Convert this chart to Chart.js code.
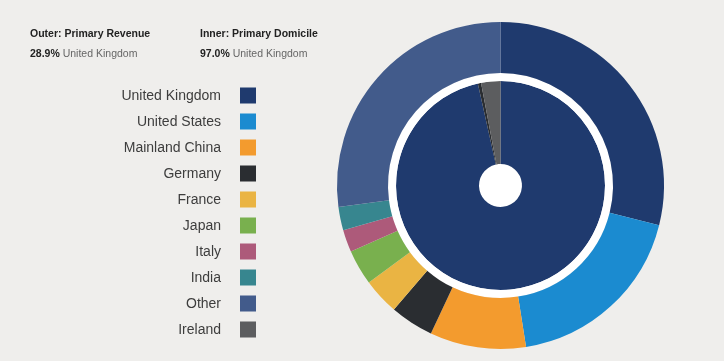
<!DOCTYPE html>
<html><head><meta charset="utf-8">
<script src="https://cdn.jsdelivr.net/npm/chart.js@4.4.0/dist/chart.umd.min.js"></script>
<style>
html,body{margin:0;padding:0;background:#efeeec;}
#wrap{position:relative;width:724px;height:361px;overflow:hidden;}
canvas{position:absolute;left:0;top:0;}
.hdr{position:absolute;font-family:"Liberation Sans",Arial,Helvetica,sans-serif;font-size:10.5px;color:#222;line-height:13px;white-space:nowrap;}
.hdr .t{font-weight:bold;}
.hdr .s{color:#666;margin-top:7px;}
.hdr .s b{color:#222;}
</style></head><body>
<div id="wrap"><canvas id="c" width="724" height="361"></canvas></div>
<script>
const categories = ["United Kingdom","United States","Mainland China","Germany","France","Japan","Italy","India","Other","Ireland"];
const outerValues = [28.9, 18.6, 9.5, 4.3, 3.6, 3.5, 2.2, 2.3, 27.1, 0];
const innerValues = [97.0, 0, 0, 0.5, 0, 0, 0, 0, 0, 3.0];
const colors = ["#1f3a6e","#1b8bd0","#f39b2e","#2a2d31","#eab443","#79b04e","#ad5a7a","#37868f","#425b8b","#5c5d5f"];
const headers = [
  {title:"Outer: Primary Revenue", value: outerValues[0], label: categories[0], x:30},
  {title:"Inner: Primary Domicile", value: innerValues[0], label: categories[0], x:200}
];

const wrap = document.getElementById('wrap');
headers.forEach(h => {
  const d = document.createElement('div');
  d.className = 'hdr';
  d.style.left = h.x + 'px';
  d.style.top = '27px';
  d.innerHTML = '<div class="t">' + h.title + '</div><div class="s"><b>' + h.value.toFixed(1) + '%</b> ' + h.label + '</div>';
  wrap.appendChild(d);
});

const sideLegend = {
  id: 'sideLegend',
  afterDraw(chart) {
    const ctx = chart.ctx;
    const labels = chart.data.labels;
    const bg = chart.data.datasets[0].backgroundColor;
    ctx.save();
    ctx.font = '14px "Liberation Sans", Arial, Helvetica, sans-serif';
    ctx.textAlign = 'right';
    ctx.textBaseline = 'middle';
    labels.forEach((lab, i) => {
      const cy = 95.5 + i * 26;
      ctx.fillStyle = '#3d3d3d';
      ctx.fillText(lab, 221, cy + 0.5);
      ctx.fillStyle = bg[i];
      ctx.fillRect(240, cy - 8, 16, 16);
    });
    ctx.restore();
  }
};

new Chart(document.getElementById('c'), {
  type: 'doughnut',
  data: {
    labels: categories,
    datasets: [
      {data: outerValues, backgroundColor: colors, borderWidth: 0, weight: 51},
      {data: [1], backgroundColor: ['#ffffff'], borderWidth: 0, weight: 8},
      {data: innerValues, backgroundColor: colors, borderWidth: 0, weight: 83},
      {data: [1], backgroundColor: ['#ffffff'], borderWidth: 0, weight: 21.5}
    ]
  },
  options: {
    responsive: false,
    animation: false,
    devicePixelRatio: 1,
    cutout: 0,
    layout: {padding: {top: 22, bottom: 12, left: 337, right: 60}},
    plugins: {legend: {display: false}, tooltip: {enabled: false}},
    events: []
  },
  plugins: [sideLegend]
});
</script>
</body></html>
